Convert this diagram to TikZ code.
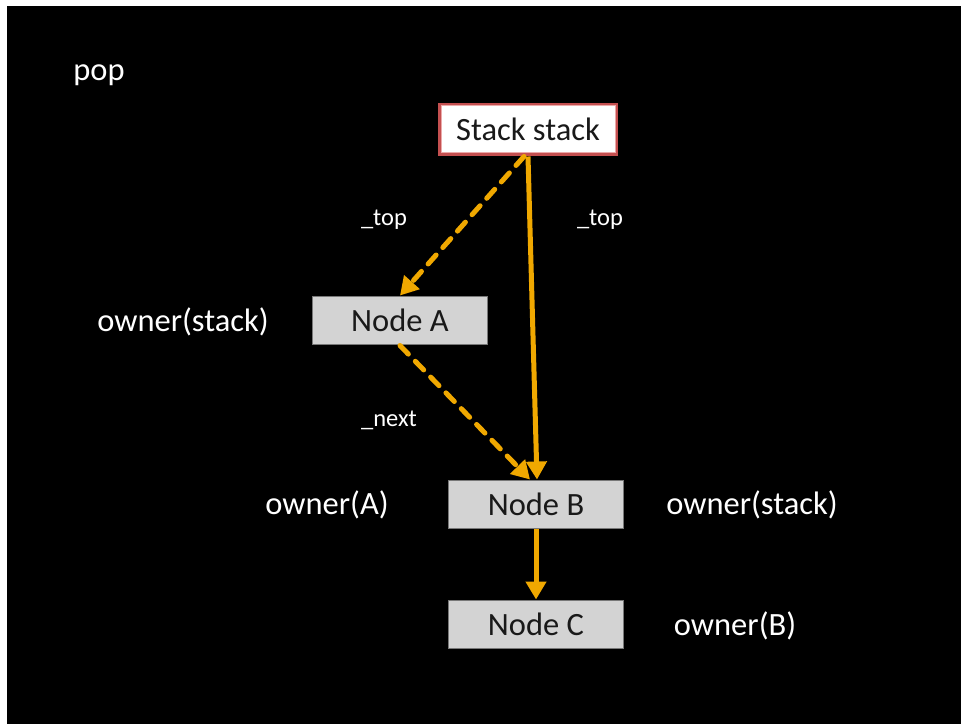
\documentclass[tikz,border=0pt]{standalone}
\usepackage{fontspec}
\setmainfont{Carlito}
\usetikzlibrary{arrows.meta}
\definecolor{arrowor}{RGB}{240,168,0}
\definecolor{boxgray}{RGB}{211,211,211}
\definecolor{boxline}{RGB}{120,120,120}
\definecolor{stackred}{RGB}{196,80,80}
\definecolor{stackpink}{RGB}{236,170,170}
\tikzset{
  bigtext/.style={font=\fontsize{32.5}{38}\selectfont},
  smalltext/.style={font=\fontsize{24.5}{29}\selectfont, text=white},
  lbl/.style={bigtext, text=white},
  graybox/.style={bigtext, fill=boxgray, draw=boxline, line width=1, minimum width=175, minimum height=48, inner sep=0, text=black!90},
  stackbox/.style={bigtext, fill=white, draw=stackred, line width=3, minimum width=177, minimum height=50, inner sep=0, text=black!90},
  link/.style={draw=arrowor, line width=5, -{Triangle[length=18,width=20]}},
  dlink/.style={link, dash pattern=on 12 off 10, line cap=round},
}
\begin{document}
\begin{tikzpicture}[x=1pt,y=-1pt]
  \useasboundingbox (0,0) rectangle (961,724);
  \fill[white] (0,0) rectangle (961,724);
  \fill[black] (7,6) rectangle (961,724);

  \node[lbl] (title) at (99,75) {pop};

  % objects
  \node[stackbox] (stack) at (528,129) {Stack stack};
  \draw[stackpink, line width=1] ([shift={(3,-3)}]stack.south west) rectangle ([shift={(-3,3)}]stack.north east);
  \node[graybox] (A) at (400,320) {Node A};
  \node[graybox] (B) at (536,504) {Node B};
  \node[graybox] (C) at (536,624) {Node C};

  % ownership labels
  \node[lbl] (ownA) at (183,322) {owner(stack)};
  \node[lbl] (ownB) at (327,505) {owner(A)};
  \node[lbl] (ownB2) at (752,505) {owner(stack)};
  \node[lbl] (ownC) at (735,626) {owner(B)};

  % field labels
  \node[smalltext] (topold) at (384,220) {\_top};
  \node[smalltext] (topnew) at (600,220) {\_top};
  \node[smalltext] (nextA) at (389,420) {\_next};

  % pointers
  \draw[dlink] ([xshift=-4,yshift=-1]stack.south) -- (A.north);
  \draw[dlink] ([yshift=-1]A.south) -- ([xshift=-6]B.north);
  \draw[link] ([yshift=-1]stack.south) -- ([xshift=1]B.north);
  \draw[link] (B.south) -- (C.north);
\end{tikzpicture}
\end{document}
